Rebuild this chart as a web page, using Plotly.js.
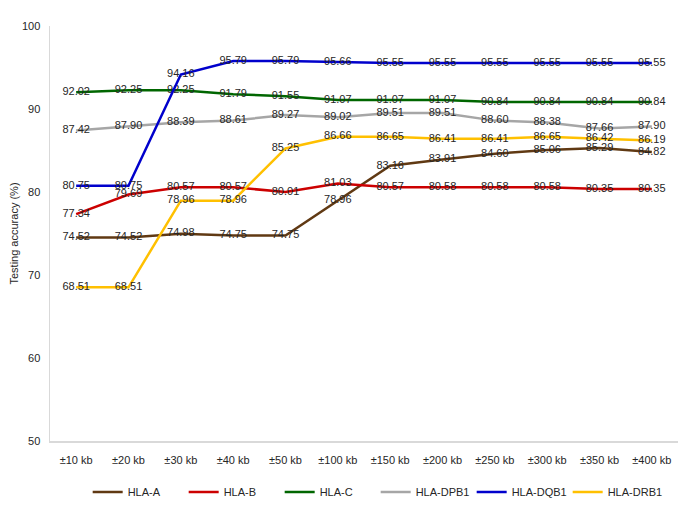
<!DOCTYPE html>
<html>
<head>
<meta charset="utf-8">
<script src="https://cdn.plot.ly/plotly-3.0.1.min.js"></script>
<style>html,body{margin:0;padding:0;background:#fff;}#chart{width:685px;height:513px;}</style>
</head>
<body>
<div id="chart"></div>
<script>
const categories = ["±10 kb","±20 kb","±30 kb","±40 kb","±50 kb","±100 kb","±150 kb","±200 kb","±250 kb","±300 kb","±350 kb","±400 kb"];
const hlaA    = [74.52, 74.52, 74.98, 74.75, 74.75, 78.96, 83.16, 83.91, 84.60, 85.06, 85.29, 84.82];
const hlaB    = [77.34, 79.69, 80.57, 80.57, 80.01, 81.03, 80.57, 80.58, 80.58, 80.58, 80.35, 80.35];
const hlaC    = [92.02, 92.25, 92.25, 91.79, 91.55, 91.07, 91.07, 91.07, 90.84, 90.84, 90.84, 90.84];
const hlaDPB1 = [87.42, 87.90, 88.39, 88.61, 89.27, 89.02, 89.51, 89.51, 88.60, 88.38, 87.66, 87.90];
const hlaDQB1 = [80.75, 80.75, 94.16, 95.79, 95.79, 95.66, 95.55, 95.55, 95.55, 95.55, 95.55, 95.55];
const hlaDRB1 = [68.51, 68.51, 78.96, 78.96, 85.25, 86.66, 86.65, 86.41, 86.41, 86.65, 86.42, 86.19];
const seriesNames = ["HLA-A","HLA-B","HLA-C","HLA-DPB1","HLA-DQB1","HLA-DRB1"];
const seriesValues = [hlaA, hlaB, hlaC, hlaDPB1, hlaDQB1, hlaDRB1];
const colors = ["#603913","#CC0000","#006600","#A6A6A6","#0000CC","#FFC000"];

const traces = seriesNames.map((n, i) => ({
  type: "scatter",
  mode: "lines+text",
  name: n,
  x: categories,
  y: seriesValues[i],
  text: seriesValues[i].map(v => v.toFixed(2)),
  textposition: "middle center",
  textfont: {family: "Liberation Sans, Arial, sans-serif", size: 11, color: "#262626"},
  line: {color: colors[i], width: 2.5},
  hoverinfo: "skip",
  cliponaxis: false
}));

const layout = {
  width: 685, height: 513,
  margin: {l: 50, r: 7, t: 26, b: 72, autoexpand: false},
  paper_bgcolor: "#fff", plot_bgcolor: "#fff",
  font: {family: "Liberation Sans, Arial, sans-serif", size: 11, color: "#262626"},
  showlegend: true,
  legend: {orientation: "h", xref: "container", x: 0.128, xanchor: "left", yref: "container", y: 0.041, yanchor: "middle",
           entrywidth: 51, entrywidthmode: "pixels",
           font: {size: 11, color: "#262626"}, traceorder: "normal"},
  xaxis: {type: "category", range: [-0.5, 11.5], showgrid: false, zeroline: false,
          showline: true, linecolor: "#D9D9D9", linewidth: 1.5, ticks: "",
          automargin: false, ticklabelstandoff: 8,
          tickfont: {size: 11, color: "#262626"}},
  yaxis: {range: [50, 100], dtick: 10, showgrid: false, zeroline: false,
          showline: true, linecolor: "#D9D9D9", linewidth: 1.5, ticks: "",
          automargin: false,
          ticklabelstandoff: 6,
          tickfont: {size: 11, color: "#262626"},
          title: {text: "Testing accuracy (%)", font: {size: 11, color: "#262626"}, standoff: 1}}
};
Plotly.newPlot("chart", traces, layout, {displayModeBar: false, staticPlot: true});
</script>
</body>
</html>
